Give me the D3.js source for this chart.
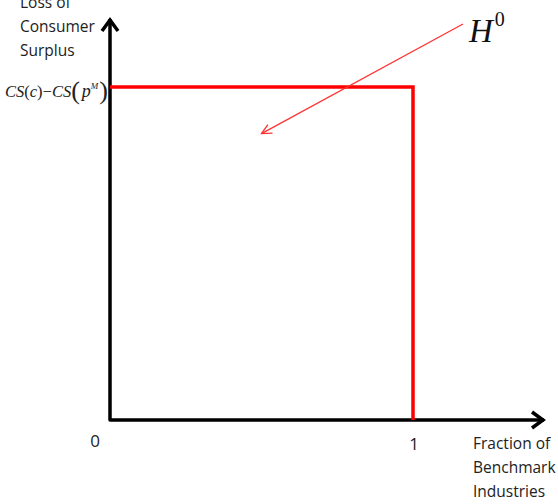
<!DOCTYPE html>
<html>
<head>
<meta charset="utf-8">
<script src="https://cdn.jsdelivr.net/npm/d3@7"></script>
<style>
html,body{margin:0;padding:0;background:#fff;}
svg{display:block;}
</style>
</head>
<body>
<svg id="chart" width="558" height="504"></svg>
<script>
// Data
const xTickValues = [0, 1];
const xTickLabels = ["0", "1"];
const stepX = [0, 1, 1];
const stepY = [1, 1, 0];
const yAxisLabel = ["Loss of", "Consumer", "Surplus"];
const xAxisLabel = ["Fraction of", "Benchmark", "Industries"];
const curveLabel = "H";
const curveSup = "0";

const svg = d3.select("#chart");
const x = d3.scaleLinear().domain([0, 1]).range([110, 413]);
const y = d3.scaleLinear().domain([0, 1]).range([420, 87]);
const xMax = x.invert(545), yMax = y.invert(18);

// Axes
svg.append("path")
  .attr("d", d3.line()([[x(0), y(yMax) + 1], [x(0), y(0)], [x(xMax) - 1, y(0)]]))
  .attr("fill", "none").attr("stroke", "#000").attr("stroke-width", 3.5)
  .attr("stroke-linejoin", "round");
// Arrowheads (open chevrons)
svg.append("path")
  .attr("d", d3.line()([[x(0) - 8, y(yMax) + 13], [x(0), y(yMax) + 2], [x(0) + 8, y(yMax) + 13]]))
  .attr("fill", "none").attr("stroke", "#000").attr("stroke-width", 3.5)
  .attr("stroke-linejoin", "miter").attr("stroke-linecap", "butt");
svg.append("path")
  .attr("d", d3.line()([[x(xMax) - 13, y(0) - 8], [x(xMax) - 2, y(0)], [x(xMax) - 13, y(0) + 8]]))
  .attr("fill", "none").attr("stroke", "#000").attr("stroke-width", 3.5)
  .attr("stroke-linejoin", "miter").attr("stroke-linecap", "butt");

// Step line
const pts = stepX.map((v, i) => [x(v), y(stepY[i])]);
svg.append("path").attr("d", d3.line()(pts))
  .attr("fill", "none").attr("stroke", "#ff0000").attr("stroke-width", 3.5)
  .attr("stroke-linejoin", "miter");

// Tick labels
const tickFont = "Open Sans, sans-serif";
svg.selectAll("text.tick").data(xTickValues).enter().append("text")
  .attr("class", "tick")
  .attr("x", (d, i) => i === 0 ? x(d) - 15 : x(d) + 1)
  .attr("y", (d, i) => i === 0 ? 447 : 450)
  .attr("text-anchor", "middle")
  .attr("font-family", tickFont).attr("font-size", 17).attr("fill", "#222")
  .text((d, i) => xTickLabels[i]);

// Axis labels
svg.selectAll("text.ylab").data(yAxisLabel).enter().append("text")
  .attr("class", "ylab").attr("x", 20).attr("y", (d, i) => 8 + i * 24)
  .attr("font-family", tickFont).attr("font-size", 15.5).attr("fill", "#222")
  .text(d => d);
svg.selectAll("text.xlab").data(xAxisLabel).enter().append("text")
  .attr("class", "xlab").attr("x", 473).attr("y", (d, i) => 449 + i * 24)
  .attr("font-family", tickFont).attr("font-size", 15.5).attr("fill", "#222")
  .text(d => d);

// CS(c) - CS(p^M) label
const serif = "Liberation Serif, Times New Roman, serif";
const cs = svg.append("text").attr("x", 108).attr("y", 97).attr("text-anchor", "end")
  .attr("font-family", serif).attr("font-size", 16.5).attr("fill", "#222");
cs.append("tspan").attr("font-style", "italic").text("CS");
cs.append("tspan").text("(");
cs.append("tspan").attr("font-style", "italic").text("c");
cs.append("tspan").text(")\u2212");
cs.append("tspan").attr("font-style", "italic").text("CS");
cs.append("tspan").attr("font-size", 26).attr("dy", 2).text("(");
cs.append("tspan").attr("font-style", "italic").attr("font-size", 18).attr("dy", -2).attr("dx", 2).text("p");
cs.append("tspan").attr("font-style", "italic").attr("font-size", 9).attr("dy", -8).text("M");
cs.append("tspan").attr("font-size", 26).attr("dy", 10).attr("dx", 1).text(")");

// H^0 annotation with arrow
const tip = [x(0.5), y(0.86)];
const tail = [463, 24];
svg.append("line").attr("x1", tail[0]).attr("y1", tail[1]).attr("x2", tip[0]).attr("y2", tip[1])
  .attr("stroke", "#ff3333").attr("stroke-width", 1.3);
const ang = Math.atan2(tip[1] - tail[1], tip[0] - tail[0]);
const hl = 11, spread = 0.45;
svg.append("path")
  .attr("d", d3.line()([
    [tip[0] - hl * Math.cos(ang - spread), tip[1] - hl * Math.sin(ang - spread)],
    tip,
    [tip[0] - hl * Math.cos(ang + spread), tip[1] - hl * Math.sin(ang + spread)]]))
  .attr("fill", "none").attr("stroke", "#ff3333").attr("stroke-width", 1.3);
const h = svg.append("text").attr("x", 469).attr("y", 42)
  .attr("font-family", serif).attr("font-size", 33).attr("fill", "#111");
h.append("tspan").attr("font-style", "italic").text(curveLabel);
h.append("tspan").attr("font-size", 20).attr("dy", -16).attr("dx", 2).text(curveSup);
</script>
</body>
</html>
